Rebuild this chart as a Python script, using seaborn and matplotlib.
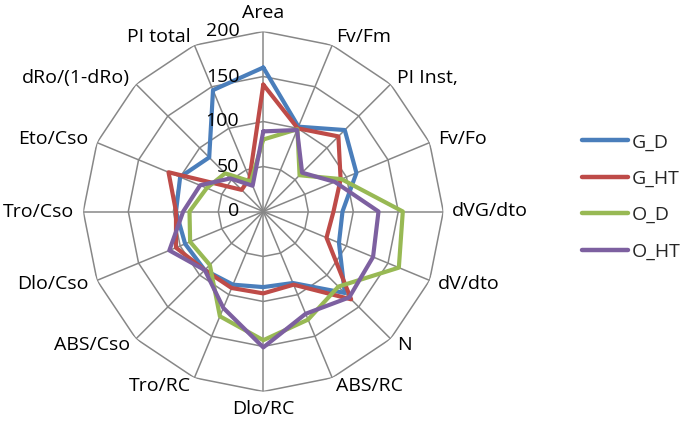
import numpy as np
import pandas as pd
import matplotlib
matplotlib.use("Agg")
import matplotlib.pyplot as plt
import matplotlib.transforms as mtransforms
from matplotlib.lines import Line2D
import seaborn as sns

categories = ["Area", "Fv/Fm", "PI Inst,", "Fv/Fo", "dVG/dto", "dV/dto", "N",
              "ABS/RC", "Dlo/RC", "Tro/RC", "ABS/Cso", "Dlo/Cso", "Tro/Cso",
              "Eto/Cso", "dRo/(1-dRo)", "PI total"]
g_d  = [160, 102, 128, 112, 88, 91, 128, 86, 84, 88, 92, 94, 97, 100, 85, 146]
g_ht = [141, 100, 118, 93, 78, 76, 138, 88, 91, 92, 92, 105, 97, 114, 34, 40]
o_d  = [80, 99, 57, 94, 155, 163, 118, 130, 143, 126, 84, 88, 82, 68, 60, 36]
o_ht = [89, 98, 61, 86, 128, 132, 135, 123, 151, 116, 92, 113, 89, 76, 52, 31]
series_names = ["G_D", "G_HT", "O_D", "O_HT"]
series_values = [g_d, g_ht, o_d, o_ht]
tick_values = [0, 50, 100, 150, 200]
colors = ["#4A7EBB", "#BE4B48", "#98B954", "#7D60A0"]

sns.set_theme(style="white")
plt.rcParams["font.family"] = ["Open Sans", "DejaVu Sans"]

n = len(categories)
angles = np.linspace(0, 2 * np.pi, n, endpoint=False)

rows = []
for name, vals in zip(series_names, series_values):
    for i in range(n + 1):
        k = i % n
        rows.append({"series": name, "theta": angles[k] if i < n else 2 * np.pi,
                     "value": vals[k], "order": i})
df = pd.DataFrame(rows)

fig = plt.figure(figsize=(6.85, 4.26), dpi=100)
W, H = 685, 426
cx, cy, R = 263.3, 211.5, 180.0
ax = fig.add_axes([(cx - R) / W, (H - cy - R) / H, 2 * R / W, 2 * R / H],
                  projection="polar")
ax.set_theta_zero_location("N")
ax.set_theta_direction(-1)
ax.set_ylim(0, 200)
ax.grid(False)
ax.spines["polar"].set_visible(False)
ax.set_xticks([])
ax.set_yticks([])
ax.patch.set_visible(False)

grid_col = "#878787"
closed = np.append(angles, 2 * np.pi)
for r in tick_values[1:]:
    ax.plot(closed, [r] * (n + 1), color=grid_col, lw=1.1, zorder=1)
for a in angles:
    ax.plot([a, a], [0, 200], color=grid_col, lw=1.1, zorder=1)

sns.lineplot(data=df, x="theta", y="value", hue="series", palette=colors,
             hue_order=series_names, sort=False, estimator=None, units="series",
             lw=3, ax=ax, legend=False, zorder=3)
ax.set_xlabel("")
ax.set_ylabel("")
ax.set_ylim(0, 200)

fs = 14
for a, lab in zip(angles, categories):
    s, c = np.sin(a), np.cos(a)
    if abs(s) < 0.1:
        ax.text(a, 210, lab, ha="center", va="bottom" if c > 0 else "top",
                fontsize=fs, color="black")
    else:
        ax.text(a, 210, lab, ha="left" if s > 0 else "right", va="center",
                fontsize=fs, color="black")

off = mtransforms.offset_copy(ax.transData, fig=fig, x=-24, y=0, units="dots")
for t in tick_values:
    ax.text(0, t, str(t), ha="right", va="center", fontsize=fs,
            color="black", transform=off)

handles = [Line2D([], [], color=col, lw=3.2, solid_capstyle="round") for col in colors]
fig.legend(handles, series_names, loc="center left",
           bbox_to_anchor=(574 / W, 1 - 197 / H), frameon=False, fontsize=fs,
           handlelength=2.4, handletextpad=0.15, labelspacing=0.95,
           borderaxespad=0)

fig.savefig("out.png", dpi=100)
